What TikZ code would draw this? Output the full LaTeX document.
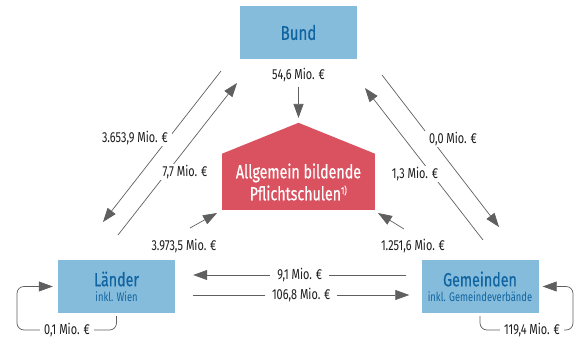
\documentclass[tikz,border=0pt]{standalone}
\usepackage{fontspec}
\setmainfont{Fira Sans}[FakeStretch=0.75]
\newfontfamily\headfont{Fira Sans}[FakeStretch=0.75, FakeBold=0.6]
\usetikzlibrary{arrows.meta, positioning}

\definecolor{boxblue}{RGB}{133,188,220}
\definecolor{textblue}{RGB}{16,100,160}
\definecolor{housered}{RGB}{218,82,96}
\definecolor{flowgray}{RGB}{95,95,95}
\definecolor{amountblack}{RGB}{30,28,28}

\begin{document}
\begin{tikzpicture}[x=1pt, y=-1pt,
        gnode/.style={rectangle, fill=boxblue, text=textblue,
                      minimum width=117pt, minimum height=53pt,
                      inner sep=0pt, align=center},
        amount/.style={fill=white, text=amountblack, inner xsep=4pt,
                       inner ysep=1.5pt, font=\fontsize{14.5}{14.5}\selectfont},
        flow/.style={-{Triangle[length=14pt, width=10pt]},
                     flowgray, line width=0.7pt},
        >=Stealth
    ]
        \useasboundingbox (0,0) rectangle (579,344);

        % Gebietskoerperschaften
        \node[gnode] (bund) at (298.5,32.5)
            {\headfont\fontsize{20}{20}\selectfont Bund};
        \node[gnode] (laender) at (116.5,286.5)
            {\headfont\fontsize{19}{19}\selectfont Länder\\[3pt]
             \normalfont\fontsize{12.5}{12.5}\selectfont inkl. Wien};
        \node[gnode] (gem) at (480,286.5)
            {\headfont\fontsize{19}{19}\selectfont Gemeinden\\[3pt]
             \normalfont\fontsize{12.5}{12.5}\selectfont inkl. Gemeindeverbände};

        % Schulen
        \node[rectangle, fill=housered, text=white, align=center,
              minimum width=153pt, minimum height=56pt, inner sep=0pt,
              font=\headfont\fontsize{19}{22}\selectfont]
            (schule) at (298.5,182)
            {Allgemein bildende\\Pflichtschulen\textsuperscript{\fontsize{10}{10}\selectfont 1)}};
        \fill[housered] (schule.north west) -- ([yshift=31pt]schule.north)
            -- (schule.north east) -- cycle;
        \coordinate (roof) at (298.5,118);

        % Endpunkte der Diagonalen
        \coordinate (bl1) at (221,71);   \coordinate (lb1) at (103,222);
        \coordinate (lb2) at (118,235);  \coordinate (bl2) at (237,83);
        \coordinate (bg1) at (382,75);   \coordinate (gb1) at (499,227);
        \coordinate (gb2) at (483,240);  \coordinate (bg2) at (365,88);
        \coordinate (ls1) at (190,228);  \coordinate (ls2) at (217,213);
        \coordinate (gs1) at (404,229);  \coordinate (gs2) at (378,213);

        \draw[flow] (bl1) -- (lb1);
        \draw[flow] (lb2) -- (bl2);
        \draw[flow] (bg1) -- (gb1);
        \draw[flow] (gb2) -- (bg2);
        \draw[flow] (ls1) -- (ls2);
        \draw[flow] (gs1) -- (gs2);

        \node[amount] (a546) at (298.5,75) {54,6 Mio. €};
        \draw[flow, shorten <=3pt] (a546) -- (roof);

        \node[amount] at (135,138) {3.653,9 Mio. €};
        \node[amount] at (185,172) {7,7 Mio. €};
        \node[amount] at (453,139) {0,0 Mio. €};
        \node[amount] at (415,174) {1,3 Mio. €};
        \node[amount] at (184,246) {3.973,5 Mio. €};
        \node[amount] at (413,246) {1.251,6 Mio. €};

        % Gemeinden <-> Laender
        \draw[flow] ([shift={(-15,-11.5)}]gem.west)
            -- node[amount, inner xsep=7pt] {9,1 Mio. €}
            ([shift={(18,-11.5)}]laender.east);
        \draw[flow] ([shift={(18,8.5)}]laender.east)
            -- node[amount, inner xsep=7pt] {106,8 Mio. €}
            ([shift={(-12,8.5)}]gem.west);

        % innerhalb
        \draw[flow, rounded corners=7pt] ([yshift=-3pt]laender.south)
            |- (17,330) |- ([xshift=-5pt]laender.west);
        \node[amount] at (67,330) {0,1 Mio. €};
        \draw[flow, rounded corners=7pt] ([yshift=-3pt]gem.south)
            |- (573,330) |- ([xshift=4pt]gem.east);
        \node[amount] at (532,330) {119,4 Mio. €};
    \end{tikzpicture}
\end{document}
